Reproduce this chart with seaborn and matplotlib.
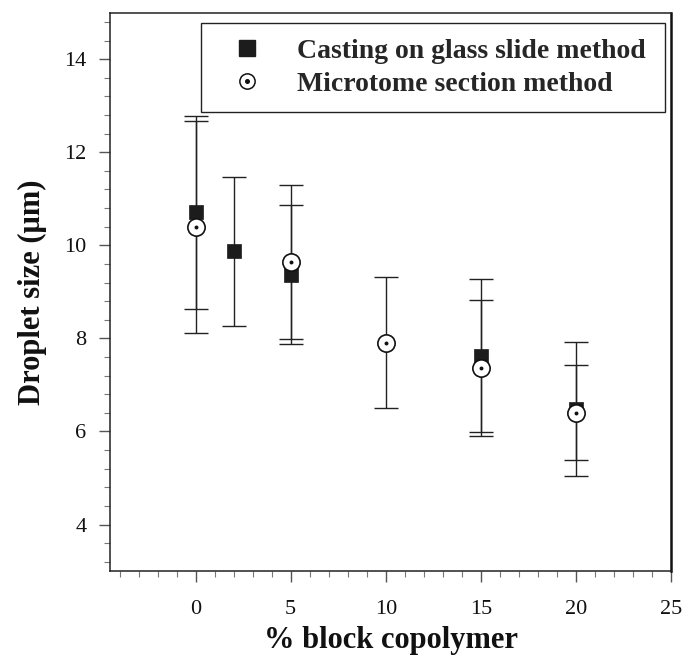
import numpy as np
import pandas as pd
import matplotlib
matplotlib.use("Agg")
import matplotlib.pyplot as plt
from matplotlib.ticker import MultipleLocator
import seaborn as sns

# Droplet size vs. block copolymer content, two measurement methods
casting_x = [0, 2, 5, 15, 20]
casting_y = [10.71, 9.87, 9.37, 7.63, 6.48]
casting_err = [2.07, 1.60, 1.50, 1.64, 1.44]

microtome_x = [0, 5, 10, 15, 20]
microtome_y = [10.40, 9.64, 7.91, 7.37, 6.40]
microtome_err = [2.28, 1.66, 1.40, 1.46, 1.02]

series_labels = ["Casting on glass slide method", "Microtome section method"]
x_ticks = [0, 5, 10, 15, 20, 25]
y_ticks = [4, 6, 8, 10, 12, 14]

casting = pd.DataFrame({"x": casting_x, "y": casting_y, "err": casting_err})
microtome = pd.DataFrame({"x": microtome_x, "y": microtome_y, "err": microtome_err})

sns.set_theme(style="ticks")
plt.rcParams["font.family"] = ["Liberation Serif", "DejaVu Serif"]

fig = plt.figure(figsize=(6.85, 6.60), dpi=100)
ax = fig.add_axes([0.1606, 0.1348, 0.819, 0.846])

# error bars
for d in (casting, microtome):
    ax.errorbar(d["x"], d["y"], yerr=d["err"], fmt="none", ecolor="#222222",
                elinewidth=1.0, capsize=8.5, capthick=1.0, zorder=2)

# filled squares
sns.scatterplot(data=casting, x="x", y="y", marker="s", s=90, color="#1c1c1c",
                edgecolor="#1c1c1c", linewidth=0.5, ax=ax, zorder=3)
# open circles with a centre dot
sns.scatterplot(data=microtome, x="x", y="y", marker="o", s=155, color="white",
                edgecolor="#111111", linewidth=1.2, ax=ax, zorder=4)
sns.scatterplot(data=microtome, x="x", y="y", marker="o", s=8, color="#111111",
                edgecolor="#111111", linewidth=0, ax=ax, zorder=5)

ax.set_xlim(-4.5, 25)
ax.set_ylim(3, 15)
ax.set_xticks(x_ticks)
ax.set_yticks(y_ticks)
ax.xaxis.set_minor_locator(MultipleLocator(1))
ax.yaxis.set_minor_locator(MultipleLocator(0.4))
ax.tick_params(axis="both", which="major", direction="out", length=8, width=1.0,
               color="#555555", labelsize=16, labelcolor="#111111")
ax.tick_params(axis="x", which="major", pad=13)
ax.tick_params(axis="y", which="major", pad=9)
ax.tick_params(axis="both", which="minor", direction="out", length=4, width=0.8,
               color="#777777")

for side in ("left", "bottom", "top"):
    ax.spines[side].set_color("#222222")
    ax.spines[side].set_linewidth(1.1)
ax.spines["right"].set_color("#111111")
ax.spines["right"].set_linewidth(1.8)

ax.set_xlabel("% block copolymer", fontsize=22, fontweight="bold", labelpad=5,
              color="#111111")
ax.set_ylabel("Droplet size (\u03bcm)", fontsize=22, fontweight="bold", labelpad=12,
              color="#111111")

# legend
sq = plt.Line2D([], [], marker="s", linestyle="none", markersize=11,
                markerfacecolor="#1c1c1c", markeredgecolor="#1c1c1c")
circ = plt.Line2D([], [], marker="o", linestyle="none", markersize=11,
                  markerfacecolor="white", markeredgecolor="#111111", markeredgewidth=1.1)
dot = plt.Line2D([], [], marker="o", linestyle="none", markersize=2.6,
                 markerfacecolor="#111111", markeredgecolor="#111111")
leg = ax.legend([sq, (circ, dot)], series_labels, loc="upper left",
                bbox_to_anchor=(0.1622, 0.5, 0.8271, 0.481), mode="expand",
                frameon=True, fancybox=False, edgecolor="#222222", framealpha=1,
                prop={"family": "Liberation Serif", "weight": "bold", "size": 20},
                handlelength=2.2, handletextpad=0.7, borderpad=0.55,
                labelspacing=0.26, borderaxespad=0)
leg.get_frame().set_linewidth(1.0)
leg.set_zorder(6)

fig.savefig("out.png", dpi=100)
